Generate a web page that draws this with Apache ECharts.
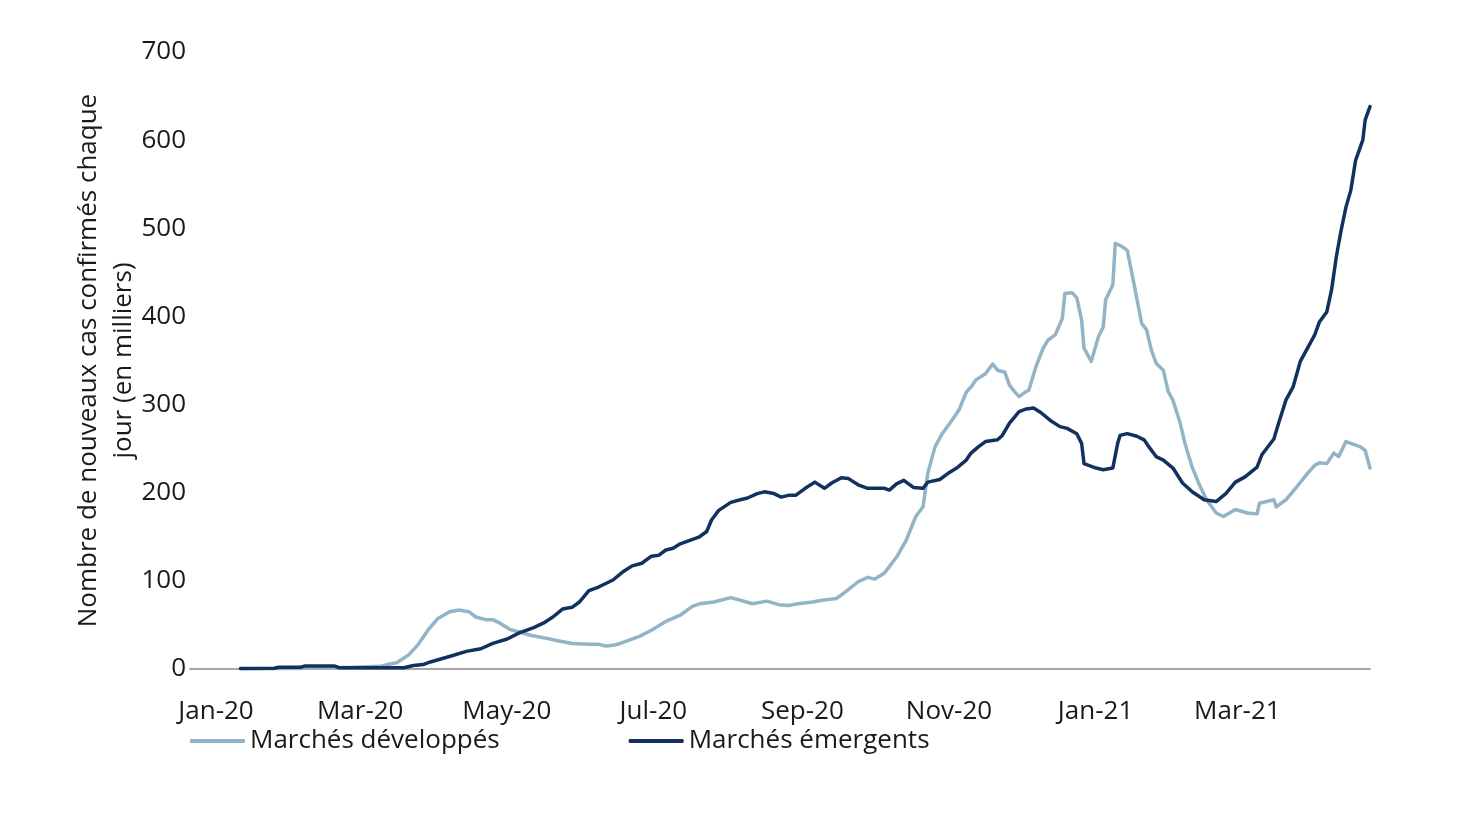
<!DOCTYPE html>
<html>
<head>
<meta charset="utf-8">
<script src="https://cdn.jsdelivr.net/npm/echarts@6/dist/echarts.min.js"></script>
<style>
html,body{margin:0;padding:0;background:#fff;}
#chart{width:1462px;height:814px;}
</style>
</head>
<body>
<div id="chart"></div>
<script>
// ---- Data (thousands of new confirmed cases per day) ----
const seriesNames = ['Marchés développés', 'Marchés émergents'];

const devDates = ['2020-01-22','2020-02-16','2020-02-18','2020-03-02','2020-03-10','2020-03-20','2020-03-23','2020-03-27',
 '2020-04-01','2020-04-05','2020-04-09','2020-04-13','2020-04-18','2020-04-22','2020-04-26','2020-04-29','2020-05-03',
 '2020-05-06','2020-05-09','2020-05-13','2020-05-17','2020-05-22','2020-05-28','2020-06-02','2020-06-08','2020-06-15',
 '2020-06-19','2020-06-22','2020-06-25','2020-06-27','2020-06-30','2020-07-06','2020-07-11','2020-07-17','2020-07-23',
 '2020-07-28','2020-07-31','2020-08-06','2020-08-13','2020-08-17','2020-08-22','2020-08-28','2020-09-02','2020-09-06',
 '2020-09-10','2020-09-16','2020-09-20','2020-09-26','2020-09-30','2020-10-05','2020-10-09','2020-10-12','2020-10-16',
 '2020-10-21','2020-10-25','2020-10-29','2020-11-01','2020-11-03','2020-11-06','2020-11-09','2020-11-13','2020-11-16',
 '2020-11-19','2020-11-21','2020-11-23','2020-11-27','2020-11-30','2020-12-02','2020-12-05','2020-12-07','2020-12-09',
 '2020-12-11','2020-12-14','2020-12-15','2020-12-18','2020-12-21','2020-12-23','2020-12-26','2020-12-29','2020-12-30',
 '2021-01-02','2021-01-04','2021-01-06','2021-01-07','2021-01-10','2021-01-13','2021-01-15','2021-01-16','2021-01-19',
 '2021-01-20','2021-01-23','2021-01-25','2021-01-28','2021-01-31','2021-02-02','2021-02-04','2021-02-06','2021-02-09',
 '2021-02-11','2021-02-13','2021-02-16','2021-02-18','2021-02-21','2021-02-24','2021-02-27','2021-03-03','2021-03-06',
 '2021-03-11','2021-03-16','2021-03-20','2021-03-21','2021-03-27','2021-03-28','2021-04-01','2021-04-05','2021-04-10',
 '2021-04-13','2021-04-15','2021-04-18','2021-04-21','2021-04-23','2021-04-26','2021-04-28','2021-05-02','2021-05-04',
 '2021-05-06'];
const devValues = [0.3,0.5,1.5,1.5,2,3,5,7,
 16,28,44,57,65,67,65,59,56,
 56,52,45,42,38,35,32,29,28,
 28,26,27,28,31,37,44,54,61,
 71,74,76,81,78,74,77,73,72,
 74,76,78,80,88,99,104,102,109,
 127,146,173,184,222,252,267,282,294,
 314,320,328,335,346,339,337,322,315,
 309,315,316,343,364,373,379,398,426,
 427,421,396,364,349,377,388,419,436,
 483,479,475,434,392,385,362,347,339,
 315,305,279,256,229,209,192,177,173,
 181,177,176,188,192,184,192,205,222,
 231,234,233,245,241,258,256,252,248,
 228];

const emDates = ['2020-01-22','2020-02-05','2020-02-07','2020-02-16','2020-02-18','2020-03-01','2020-03-03','2020-03-30',
 '2020-04-03','2020-04-07','2020-04-10','2020-04-14','2020-04-19','2020-04-25','2020-05-01','2020-05-06','2020-05-12',
 '2020-05-17','2020-05-23','2020-05-27','2020-05-31','2020-06-04','2020-06-08','2020-06-11','2020-06-15','2020-06-19',
 '2020-06-25','2020-06-29','2020-07-03','2020-07-07','2020-07-11','2020-07-14','2020-07-17','2020-07-20','2020-07-23',
 '2020-07-27','2020-07-31','2020-08-03','2020-08-05','2020-08-08','2020-08-13','2020-08-17','2020-08-20','2020-08-24',
 '2020-08-27','2020-08-31','2020-09-03','2020-09-06','2020-09-09','2020-09-13','2020-09-17','2020-09-21','2020-09-24',
 '2020-09-28','2020-10-01','2020-10-05','2020-10-09','2020-10-16','2020-10-18','2020-10-21','2020-10-24','2020-10-28',
 '2020-11-01','2020-11-03','2020-11-08','2020-11-12','2020-11-15','2020-11-19','2020-11-21','2020-11-24','2020-11-27',
 '2020-12-02','2020-12-04','2020-12-07','2020-12-11','2020-12-14','2020-12-17','2020-12-20','2020-12-24','2020-12-28',
 '2020-12-31','2021-01-04','2021-01-06','2021-01-07','2021-01-12','2021-01-15','2021-01-19','2021-01-21','2021-01-22',
 '2021-01-25','2021-01-29','2021-02-01','2021-02-03','2021-02-06','2021-02-09','2021-02-13','2021-02-17','2021-02-21',
 '2021-02-26','2021-03-03','2021-03-07','2021-03-11','2021-03-15','2021-03-20','2021-03-22','2021-03-27','2021-03-29',
 '2021-04-01','2021-04-04','2021-04-07','2021-04-10','2021-04-13','2021-04-15','2021-04-18','2021-04-20','2021-04-22',
 '2021-04-24','2021-04-26','2021-04-28','2021-04-30','2021-05-03','2021-05-04','2021-05-06'];
const emValues = [0.5,0.8,2,2,3.5,3.5,1.5,1.5,
 4,5,8,11,15,20,23,29,34,
 41,47,52,59,68,70,76,89,93,
 101,110,117,120,128,129,135,137,142,
 146,150,156,169,180,189,192,194,199,
 201,199,195,197,197,205,212,205,211,
 217,216,209,205,205,203,210,214,206,
 205,212,215,223,228,237,245,252,258,
 260,265,279,292,295,296,291,282,275,
 273,267,256,233,228,226,228,256,265,
 267,264,260,252,241,237,228,211,201,
 192,190,199,212,218,229,243,261,279,
 305,320,349,364,379,394,405,430,468,
 498,524,543,577,600,623,638];

const xTickDates = ['2020-01-01','2020-03-01','2020-05-01','2020-07-01','2020-09-01','2020-11-01','2021-01-01','2021-03-01'];
const xTickLabels = ['Jan-20','Mar-20','May-20','Jul-20','Sep-20','Nov-20','Jan-21','Mar-21'];
const xStart = '2020-01-01';
const xEnd = '2021-05-06';

function ts(s) { const p = s.split('-').map(Number); return Date.UTC(p[0], p[1] - 1, p[2]); }
const xTickValues = xTickDates.map(ts);

const FONT = '"Open Sans", sans-serif';
const chart = echarts.init(document.getElementById('chart'), null, { renderer: 'canvas' });

chart.setOption({
  animation: false,
  backgroundColor: '#ffffff',
  textStyle: { fontFamily: FONT, color: '#1a1a1a' },
  grid: { left: 190, right: 92, top: 52, bottom: 145, containLabel: false },
  legend: {
    data: seriesNames,
    left: 190,
    top: 728,
    padding: 0,
    itemWidth: 55,
    itemHeight: 4,
    itemGap: 129,
    icon: 'roundRect',
    textStyle: { fontFamily: FONT, fontSize: 26, color: '#1a1a1a' }
  },
  xAxis: {
    type: 'value',
    min: ts(xStart),
    max: ts(xEnd),
    axisLine: { show: true, onZero: false, lineStyle: { color: '#a6a6a6', width: 2 } },
    axisTick: { show: false },
    splitLine: { show: false },
    axisLabel: {
      customValues: xTickValues,
      hideOverlap: false,
      fontFamily: FONT,
      fontSize: 26,
      color: '#1a1a1a',
      margin: 30,
      padding: [0, 0, 0, 52],
      formatter: function (v) {
        const i = xTickValues.indexOf(v);
        return i >= 0 ? xTickLabels[i] : '';
      }
    }
  },
  yAxis: {
    type: 'value',
    min: 0,
    max: 700,
    interval: 100,
    name: 'Nombre de nouveaux cas confirmés chaque\njour (en milliers)',
    nameLocation: 'middle',
    nameGap: 49,
    nameMoveOverlap: false,
    nameTextStyle: { fontFamily: FONT, fontSize: 26, color: '#1a1a1a', lineHeight: 35, align: 'center' },
    axisLine: { show: false },
    axisTick: { show: false },
    splitLine: { show: false },
    axisLabel: { fontFamily: FONT, fontSize: 26, color: '#1a1a1a', margin: 4 }
  },
  series: [
    {
      name: seriesNames[0],
      type: 'line',
      showSymbol: false,
      symbol: 'none',
      color: '#93B3C6',
      lineStyle: { width: 3.5, color: '#93B3C6', cap: 'round', join: 'round' },
      data: devDates.map((d, i) => [ts(d), devValues[i]])
    },
    {
      name: seriesNames[1],
      type: 'line',
      showSymbol: false,
      symbol: 'none',
      color: '#12315F',
      lineStyle: { width: 3.5, color: '#12315F', cap: 'round', join: 'round' },
      data: emDates.map((d, i) => [ts(d), emValues[i]])
    }
  ]
});
</script>
</body>
</html>
